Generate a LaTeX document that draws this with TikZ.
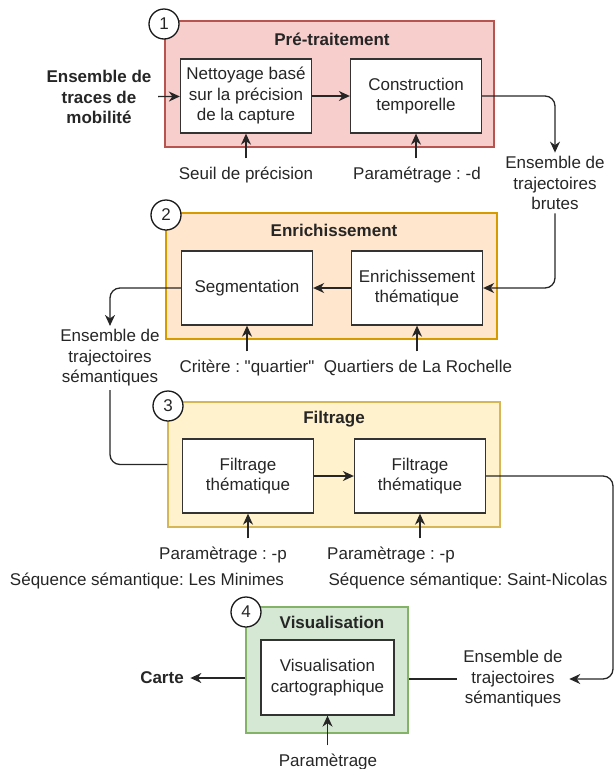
\documentclass[tikz,border=0pt]{standalone}
\usepackage{fontspec}
\setmainfont{Liberation Sans}[Ligatures=TeXOff]
\usepackage{tikz}
\usetikzlibrary{arrows.meta}
\definecolor{prefill}{HTML}{F8CECC}\definecolor{preline}{HTML}{B85450}
\definecolor{enrfill}{HTML}{FFE6CC}\definecolor{enrline}{HTML}{D79B00}
\definecolor{filfill}{HTML}{FFF2CC}\definecolor{filline}{HTML}{D6B656}
\definecolor{visfill}{HTML}{D5E8D4}\definecolor{visline}{HTML}{82B366}
\frenchspacing

\begin{document}
\begin{tikzpicture}[x=1pt,y=-1pt,color=black!85,line width=1.3pt,
  font=\fontsize{17}{20.5}\selectfont,>={Stealth[length=11pt,width=10pt,inset=3.5pt]},
  stage/.style={draw,line width=1.2pt,inner sep=0pt},
  box/.style={draw=black!80,fill=white,line width=1.3pt,minimum width=131pt,minimum height=74pt,align=center,inner sep=2pt},
  num/.style={circle,draw=black!90,fill=white,minimum size=30pt,inner sep=0pt},
  param/.style={minimum height=32pt,inner sep=0pt},
  set/.style={align=center,inner xsep=6pt,inner ysep=3pt},
  title/.style={font=\fontsize{17}{20.5}\selectfont\bfseries}]
  \useasboundingbox (0,0) rectangle (616,769);
  % stages
  \node[stage,draw=preline,fill=prefill,minimum width=329pt,minimum height=126pt] (pre) at (329.5,84) {};
  \node[stage,draw=enrline,fill=enrfill,minimum width=331pt,minimum height=126pt] (enr) at (331.5,276) {};
  \node[stage,draw=filline,fill=filfill,minimum width=332pt,minimum height=125pt] (fil) at (334,464.5) {};
  \node[stage,draw=visline,fill=visfill,minimum width=162pt,minimum height=126pt] (vis) at (327,670) {};
  \node[num] (n1) at (164,24) {1}; \node[num] (n2) at (166,215) {2};
  \node[num] (n3) at (168,406) {3}; \node[num] (n4) at (246,612) {4};
  \node[title] (t1) at (332,39) {Pré-traitement}; \node[title] (t2) at (334,230) {Enrichissement};
  \node[title] (t3) at (334,419) {Filtrage}; \node[title] (t4) at (332,622) {Visualisation};
  % boxes
  \node[box] (nett) at (246,96) {Nettoyage basé\\sur la précision\\de la capture};
  \node[box] (constr) at (416,96) {Construction\\temporelle};
  \node[box] (seg) at (247,288) {Segmentation};
  \node[box] (enrt) at (417,288) {Enrichissement\\thématique};
  \node[box] (f1) at (248,476) {Filtrage\\thématique};
  \node[box] (f2) at (420,476) {Filtrage\\thématique};
  \node[box,minimum width=133pt,minimum height=75pt] (carto) at (327.5,677.5) {Visualisation\\cartographique};
  % sets and parameters
  \node[set,font=\fontsize{17}{20.5}\selectfont\bfseries] (traces) at (99,97) {Ensemble de\\traces de\\mobilité};
  \node[set] (brutes) at (555,183) {Ensemble de\\trajectoires\\brutes};
  \node[set] (sem1) at (110,358) {Ensemble de\\trajectoires\\sémantiques};
  \node[set] (sem2) at (513,679) {Ensemble de\\trajectoires\\sémantiques};
  \node[set,font=\fontsize{17}{20.5}\selectfont\bfseries] (carte) at (162,678) {Carte};
  \node[param] (seuil) at (246,175) {Seuil de précision}; \node[param] (pd) at (417,175) {Paramétrage : -d};
  \node[param] (crit) at (247,368) {Critère : "quartier"}; \node[param] (quart) at (418,368) {Quartiers de La Rochelle};
  \node[param] (p3a) at (223,555) {Paramètrage : -p}; \node[param] (p3b) at (391,555) {Paramètrage : -p};
  \node (seq1) at (147,581) {Séquence sémantique: Les Minimes};
  \node (seq2) at (468,581) {Séquence sémantique: Saint-Nicolas};
  \node[param] (p4) at (328,762) {Paramètrage};
  \coordinate (bend) at (613,600);
  % connectors
  \draw[->] (traces) to (nett); \draw[->] (nett) to (constr);
  \draw[->,rounded corners=10pt] (constr) -| (brutes); \draw[->,rounded corners=10pt] (brutes) |- (enrt);
  \draw[->] (enrt) to (seg); \draw[->,rounded corners=10pt] (seg) -| (sem1);
  \draw[rounded corners=10pt] (sem1) |- (fil); \draw[->] (f1) to (f2);
  \draw[->,rounded corners=10pt] (f2) -| (bend) |- (sem2);
  \draw (sem2.west) -- (sem2.west -| vis.east); \draw[->] (vis.west |- carte) -- (carte);
  \draw[->] (seuil.north -| nett) -- (nett); \draw[->] (pd.north -| constr) -- (constr);
  \draw[->] (crit.north -| seg) -- (seg); \draw[->] (quart.north -| enrt) -- (enrt);
  \draw[->] (p3a.north -| f1) -- (f1); \draw[->] (p3b.north -| f2) -- (f2);
  \draw[->] (p4.north -| carto) -- (carto);
\end{tikzpicture}
\end{document}
